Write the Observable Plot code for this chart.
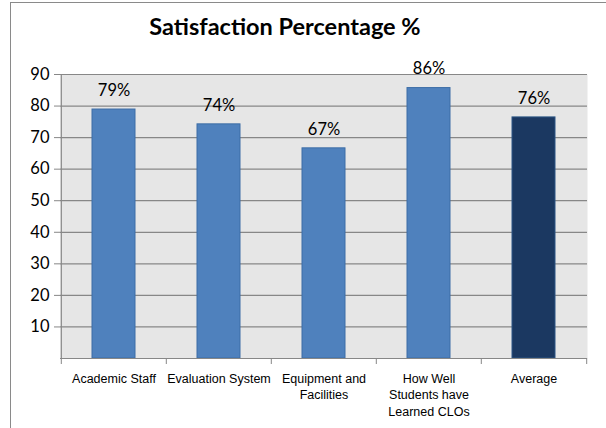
<!DOCTYPE html>
<html><head><meta charset="utf-8">
<script src="https://cdn.jsdelivr.net/npm/d3@7"></script>
<script src="https://cdn.jsdelivr.net/npm/@observablehq/plot@0.6"></script>
<style>
body{margin:0;background:#fff}
#wrap{position:relative;width:606px;height:428px;overflow:hidden}
#frame{position:absolute;left:10px;top:2px;right:-2px;bottom:-2px;border-top:1.5px solid #8a8a8a;border-left:1.5px solid #8a8a8a}
#title{position:absolute;left:0;width:570px;top:12px;text-align:center;font:bold 23.5px Lato,sans-serif;color:#000}
#chart{position:absolute;left:0;top:0}
</style></head><body>
<div id="wrap"><div id="frame"></div><div id="chart"></div><div id="title">Satisfaction Percentage %</div></div>
<script>
const categories = ["Academic Staff", "Evaluation System", "Equipment and\nFacilities", "How Well\nStudents have\nLearned CLOs", "Average"];
const values = [78.9, 74.2, 66.6, 85.7, 76.4];
const valueLabels = ["79%", "74%", "67%", "86%", "76%"];
const yTicks = [10, 20, 30, 40, 50, 60, 70, 80, 90];

const data = categories.map((c, i) => ({cat: c, value: values[i], label: valueLabels[i]}));
const W = 606, H = 428, mL = 60, mR = 19, mT = 74, mB = 70;
const step = (W - mL - mR) / categories.length;

const chart = Plot.plot({
  width: W, height: H,
  marginLeft: mL, marginRight: mR, marginTop: mT, marginBottom: mB,
  style: {background: "transparent", fontFamily: "Lato, sans-serif", color: "#000"},
  x: {domain: categories, paddingInner: 0.59, paddingOuter: 0.295, label: null},
  y: {domain: [0, 90], label: null},
  marks: [
    Plot.frame({fill: "#e6e6e6", stroke: null}),
    Plot.gridY(yTicks, {stroke: "#878787", strokeOpacity: 1, strokeWidth: 1.2}),
    Plot.barY(data, {x: "cat", y: "value",
      fill: d => d.cat === "Average" ? "#1b3861" : "#4f81bd",
      stroke: d => d.cat === "Average" ? "#2c5585" : "#3d6da6", strokeWidth: 1}),
    Plot.text(data, {x: "cat", y: "value", text: "label", dy: -19, fontSize: 16.5, fill: "#000"}),
    Plot.ruleY([0], {stroke: "#878787", strokeWidth: 1.2}),
    Plot.ruleX([categories[0]], {y1: 0, y2: 90, dx: -step / 2, stroke: "#878787", strokeWidth: 1.2}),
    Plot.axisY({ticks: yTicks, tickSize: 6, tickPadding: 5, fontSize: 16.5, stroke: "#878787", strokeOpacity: 1, fill: "#000", label: null}),
    Plot.axisX({ticks: categories, tickSize: 6, tickFormat: () => "", dx: -step / 2, stroke: "#878787", strokeOpacity: 1, label: null}),
    Plot.axisX({ticks: [categories[categories.length - 1]], tickSize: 6, tickFormat: () => "", dx: step / 2, stroke: "#878787", strokeOpacity: 1, label: null}),
    Plot.axisX({ticks: categories, tickSize: 0, tickPadding: 13, fontSize: 12.5, fontFamily: "Liberation Sans, Arial, sans-serif", lineHeight: 1.3, fill: "#000", label: null})
  ]
});
document.getElementById("chart").appendChild(chart);
</script>
</body></html>
